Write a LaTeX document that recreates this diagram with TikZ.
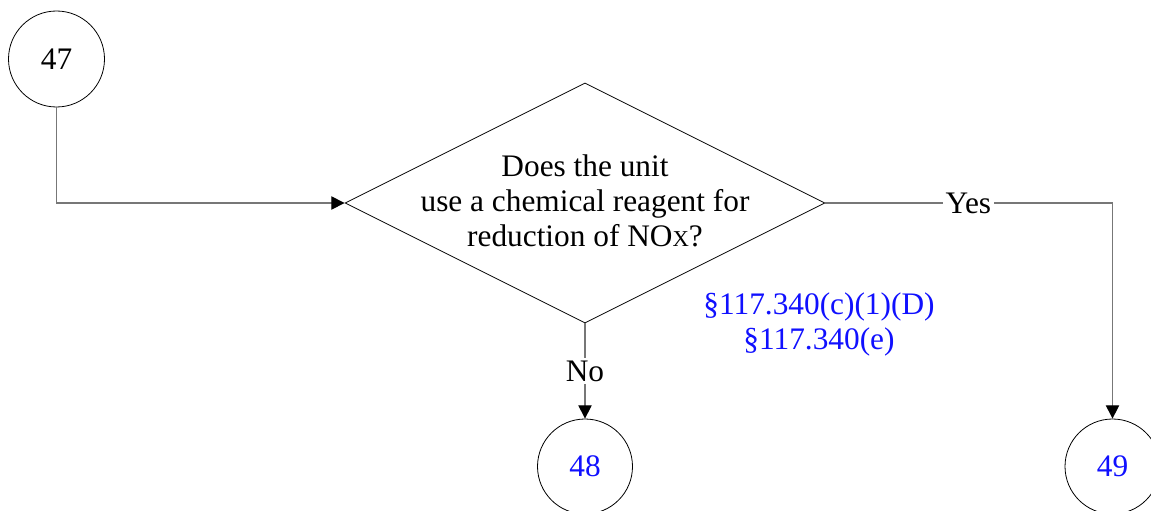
\documentclass[tikz,border=0pt]{standalone}
\usepackage{fontspec}
\setmainfont{Liberation Serif}
\usetikzlibrary{shapes.geometric,arrows.meta}
\definecolor{conngray}{HTML}{777777}
\definecolor{refblue}{HTML}{1010FF}
\tikzset{
  txt/.style={font=\fontsize{23.5pt}{26.25pt}\selectfont, inner sep=0pt},
  conncircle/.style={circle, draw=black, line width=0.6pt, minimum size=#1, inner sep=0pt, font=\fontsize{23.5pt}{26.25pt}\selectfont},
  decision/.style={diamond, draw=black, line width=0.6pt, minimum width=360pt, minimum height=180pt, inner sep=0pt},
  conn/.style={draw=conngray, line width=0.9pt, -{Triangle[length=10pt,width=10pt,color=black]}},
  lbl/.style={fill=white, inner sep=2pt, font=\fontsize{23.5pt}{26.25pt}\selectfont, text=black}
}
\begin{document}
\begin{tikzpicture}[x=0.75pt,y=-0.75pt]
\useasboundingbox (0,0) rectangle (1151,510);
\node[conncircle=72pt] (c47) at (56.5,59) {47};
\node[decision] (q) at (585,203) {};
\node[txt, align=center] (qt) at (585,201) {Does the unit\\use a chemical reagent for\\reduction of NO{\fontsize{17pt}{17pt}\selectfont X}?};
\node[conncircle=71.25pt, text=refblue] (c48) at (585,466.5) {48};
\node[conncircle=71.25pt, text=refblue] (c49) at (1112.5,466.5) {49};
\node[txt, align=center, text=refblue] (ref) at (819,324) {§117.340(c)(1)(D)\\§117.340(e)};
\draw[conn] (c47.south) |- (q.west);
\draw[conn] (q.south) -- node[lbl] (no) {No} (c48.north);
\draw[conn] (q.east) -| node[lbl, pos=0.249] (yes) {Yes} (c49.north);
\end{tikzpicture}
\end{document}
